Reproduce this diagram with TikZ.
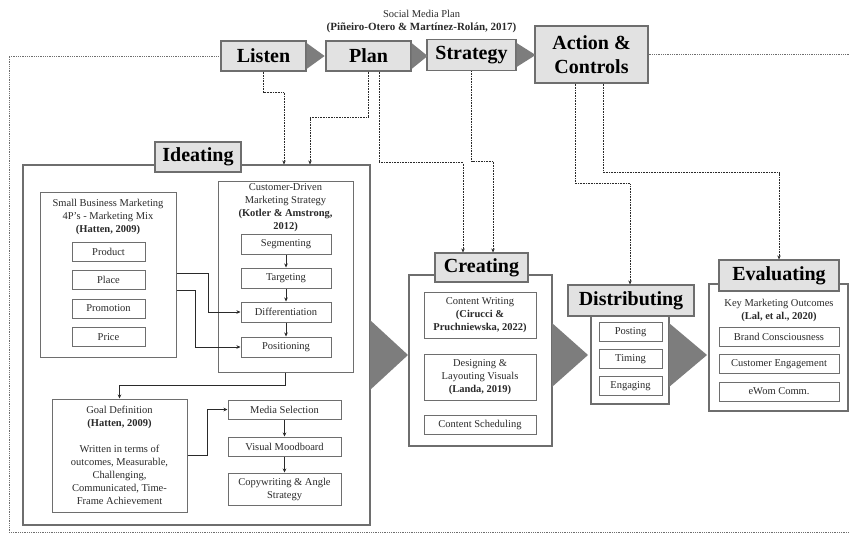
\documentclass[tikz,border=0pt]{standalone}
\usepackage{fontspec}
\setmainfont{Liberation Serif}
\usetikzlibrary{arrows.meta}
\definecolor{boxline}{HTML}{6E6E6E}
\definecolor{headfill}{HTML}{E2E2E2}
\definecolor{chev}{HTML}{7D7D7D}
\definecolor{txt}{HTML}{2A2A2A}
\begin{document}
\begin{tikzpicture}[x=1pt,y=-1pt,box/.style={draw=boxline,line width=1pt,inner sep=0pt,text=txt},stage/.style={box,fill=headfill,line width=1.2pt,align=center,text=black,font=\fontsize{20}{24}\selectfont\bfseries},frame/.style={box,line width=1.2pt,fill=white},item/.style={box,fill=white,align=center,font=\fontsize{10.5}{13}\selectfont},note/.style={inner sep=0pt,align=center,text=txt,font=\fontsize{10.5}{13}\selectfont},link/.style={draw=txt,line width=0.6pt,-{Stealth[length=4pt,width=3.5pt]}},plink/.style={link,densely dotted},border/.style={draw=boxline,densely dotted,line width=0.8pt},chevron/.style={fill=chev}]
\useasboundingbox (0,0) rectangle (850,536);

\node[font=\fontsize{10.5}{12}\selectfont,text=txt] (smp) at (421.5,14) {Social Media Plan};
\node[font=\fontsize{11}{12}\selectfont\bfseries,text=txt] (smpref) at (421.5,28) {(Piñeiro-Otero \& Martínez-Rolán, 2017)};

%TOP ROW
\node[stage,minimum width=85pt,minimum height=30pt] (listen) at (263.5,56) {Listen};
\node[stage,minimum width=85pt,minimum height=30pt] (plan) at (368.5,56) {Plan};
\node[stage,minimum width=89pt,minimum height=31pt] (strategy) at (471.5,55) {Strategy};
\node[stage,minimum width=113pt,minimum height=57pt] (action) at (591.5,54.5) {Action \&\\Controls};
\fill[chevron] ([yshift=13pt]listen.east) -- ++(18,13) -- ++(-18,13) -- cycle;
\fill[chevron] ([yshift=13pt]plan.east) -- ++(16,13) -- ++(-16,13) -- cycle;
\fill[chevron] ([yshift=12pt]strategy.east) -- ++(19,12) -- ++(-19,12) -- cycle;

%BORDER
\draw[border] (listen.west) -- (9,56) -- (9,532) -- (850,532);
\draw[border] (action.east) -- ++(202,0);

%IDEATING
\node[frame,minimum width=347pt,minimum height=360pt] (ideat) at (196.5,345) {};
\node[stage,minimum width=86pt,minimum height=30pt] (ideatT) at (198,157) {Ideating};

\node[box,minimum width=136pt,minimum height=165pt] (sbm) at (108,274.5) {};
\node[note] (sbmT) at (108,217) {Small Business Marketing\\4P's - Marketing Mix\\\textbf{(Hatten, 2009)}};
\node[item,minimum width=73pt,minimum height=19pt] (product) at (108.5,251.5) {Product};
\node[item,minimum width=73pt,minimum height=19pt] (place) at (108.5,280) {Place};
\node[item,minimum width=73pt,minimum height=19pt] (promo) at (108.5,308.5) {Promotion};
\node[item,minimum width=73pt,minimum height=19pt] (price) at (108.5,337) {Price};

\node[box,minimum width=135pt,minimum height=191pt] (cds) at (285.5,276.5) {};
\node[note] (cdsT) at (285.5,208) {Customer-Driven\\Marketing Strategy\\\textbf{(Kotler \& Amstrong,}\\\textbf{2012)}};
\node[item,minimum width=90pt,minimum height=20pt] (seg) at (286,244) {Segmenting};
\node[item,minimum width=90pt,minimum height=20pt] (tar) at (286,278) {Targeting};
\node[item,minimum width=90pt,minimum height=20pt] (diff) at (286,312) {Differentiation};
\node[item,minimum width=90pt,minimum height=20pt] (pos) at (286,347) {Positioning};
\draw[link] (seg) -- (tar);
\draw[link] (tar) -- (diff);
\draw[link] (diff) -- (pos);
\draw[link] ([yshift=-3pt]place.north -| sbm.east) -- ++(32,0) |- (diff.west);
\draw[link] (place.south -| sbm.east) -- ++(19,0) |- (pos.west);

\node[item,minimum width=135pt,minimum height=113pt] (goal) at (119.5,455.5) {Goal Definition\\\textbf{(Hatten, 2009)}\\[13pt]Written in terms of\\outcomes, Measurable,\\Challenging,\\Communicated, Time-\\Frame Achievement};
\draw[link] (cds.south) -- ++(0,13) -| (goal.north);

\node[item,minimum width=113pt,minimum height=19pt] (media) at (284.5,409.5) {Media Selection};
\node[item,minimum width=113pt,minimum height=19pt] (mood) at (284.5,446.5) {Visual Moodboard};
\node[item,minimum width=113pt,minimum height=32pt] (copy) at (284.5,489) {Copywriting \& Angle\\Strategy};
\draw[link] (goal.east) -- ++(20,0) |- (media.west);
\draw[link] (media) -- (mood);
\draw[link] (mood) -- (copy);

\fill[chevron] (370,320) -- (408,355) -- (370,390) -- cycle;

%CREATING
\node[frame,minimum width=143pt,minimum height=171pt] (creat) at (480.5,360.5) {};
\node[stage,minimum width=93pt,minimum height=29pt] (creatT) at (481.5,267.5) {Creating};
\node[item,minimum width=112pt,minimum height=46pt] (cw) at (480,315) {Content Writing\\\textbf{(Cirucci \&}\\\textbf{Pruchniewska, 2022)}};
\node[item,minimum width=112pt,minimum height=46pt] (design) at (480,377) {Designing \&\\Layouting Visuals\\\textbf{(Landa, 2019)}};
\node[item,minimum width=112pt,minimum height=19pt] (sched) at (480,424.5) {Content Scheduling};

\fill[chevron] (552,323) -- (588,355) -- (552,387) -- cycle;

%DISTRIBUTING
\node[frame,minimum width=78pt,minimum height=99pt] (dist) at (630,354.5) {};
\node[stage,minimum width=126pt,minimum height=31pt] (distT) at (631,300.5) {Distributing};
\node[item,minimum width=63pt,minimum height=19pt] (post) at (630.5,332) {Posting};
\node[item,minimum width=63pt,minimum height=19pt] (timing) at (630.5,359) {Timing};
\node[item,minimum width=63pt,minimum height=19pt] (engaging) at (630.5,386) {Engaging};

\fill[chevron] (669,323) -- (707,355) -- (669,387) -- cycle;

%EVALUATING
\node[frame,minimum width=139pt,minimum height=127pt] (eval) at (778.5,347.5) {};
\node[stage,minimum width=120pt,minimum height=31pt] (evalT) at (779,275.5) {Evaluating};
\node[note] (evalH) at (779,310) {Key Marketing Outcomes\\\textbf{(Lal, et al., 2020)}};
\node[item,minimum width=120pt,minimum height=19pt] (brand) at (779,336.5) {Brand Consciousness};
\node[item,minimum width=120pt,minimum height=19pt] (cust) at (779,364) {Customer Engagement};
\node[item,minimum width=120pt,minimum height=19pt] (ewom) at (779,391.5) {eWom Comm.};

%DOTTED LINKS
\draw[plink] (listen.south) -- ++(0,21) -| ([xshift=87.5pt]ideat.north);
\draw[plink] (plan.south) -- ++(0,46) -| ([xshift=113.5pt]ideat.north);
\draw[plink] ([xshift=10.5pt]plan.south) -- ++(0,91) -| ([xshift=-18.5pt]creatT.north);
\draw[plink] (strategy.south) -- ++(0,90) -| ([xshift=11.5pt]creatT.north);
\draw[plink] ([xshift=-16pt]action.south) -- ++(0,100) -| ([xshift=-1pt]distT.north);
\draw[plink] ([xshift=12pt]action.south) -- ++(0,89) -| (evalT.north);
\end{tikzpicture}
\end{document}
